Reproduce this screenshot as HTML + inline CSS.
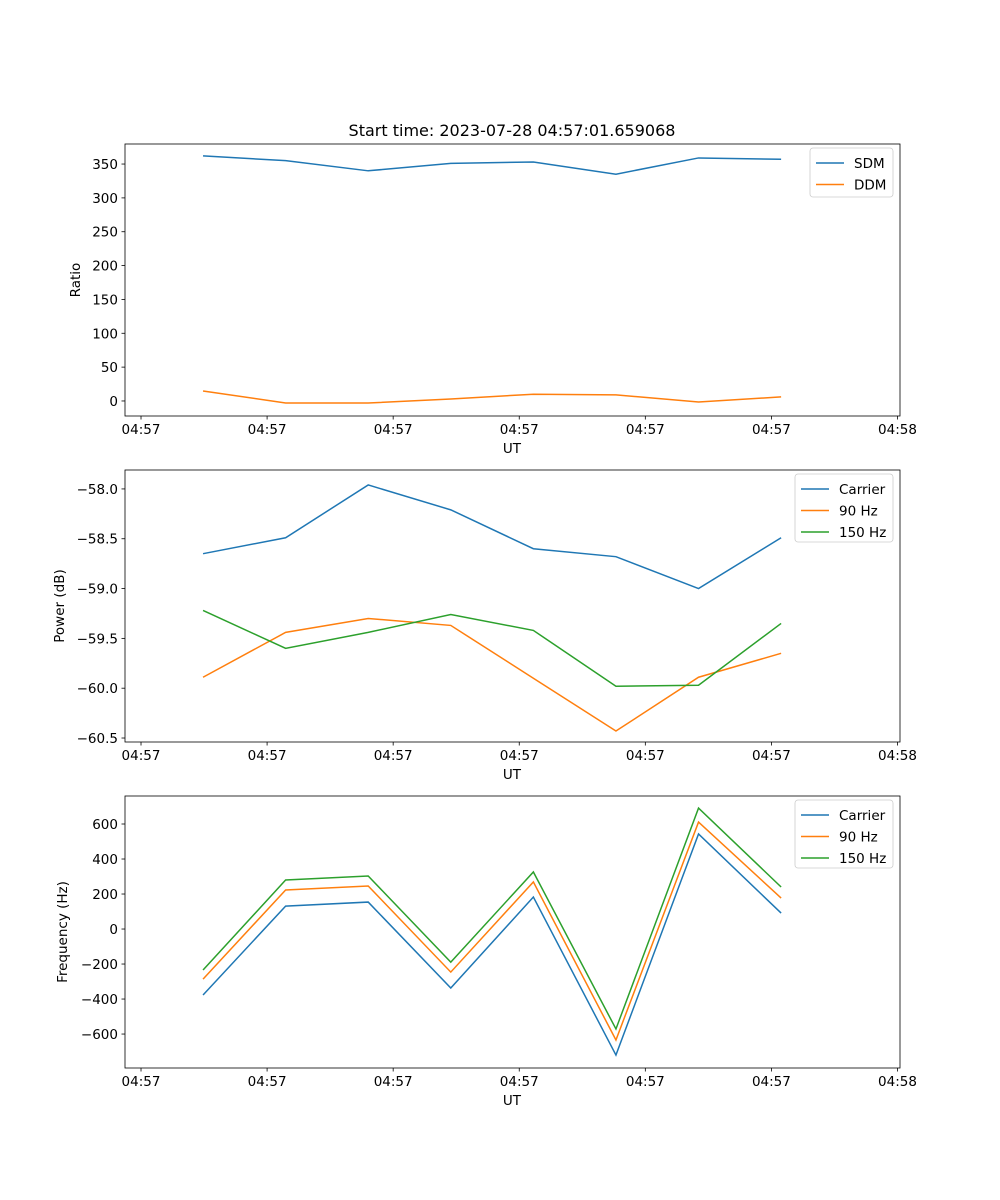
<!DOCTYPE html>
<html><head><meta charset="utf-8"><style>
body{margin:0;background:#fff}
svg{display:block;font-family:"DejaVu Sans","Liberation Sans",sans-serif}
</style></head><body>
<svg id="fig" width="1000" height="1200">
<rect width="1000" height="1200" fill="#fff"/>
<text x="512" y="136" font-size="16" text-anchor="middle">Start time: 2023-07-28 04:57:01.659068</text>
</svg>
<script>
const times=[4.92,11.47,18.02,24.57,31.12,37.67,44.22,50.77];
const tickVals=[0,10,20,30,40,50,60];
const tickLabels=['04:57','04:57','04:57','04:57','04:57','04:57','04:58'];
const sdm=[362,355,340,351,353,335,359,357];
const ddm=[14.8,-3,-3,3,10,9,-1.5,6];
const pwrCarrier=[-58.65,-58.49,-57.96,-58.21,-58.60,-58.68,-59.00,-58.49];
const pwr90=[-59.89,-59.44,-59.30,-59.37,-59.90,-60.43,-59.89,-59.65];
const pwr150=[-59.22,-59.60,-59.44,-59.26,-59.42,-59.98,-59.97,-59.35];
const frqCarrier=[-377,131,154,-337,183,-720,543,91];
const frq90=[-286,223,246,-246,269,-634,611,177];
const frq150=[-234,280,303,-189,326,-571,691,240];
const yTicks1=[0,50,100,150,200,250,300,350];
const yTicks2=[-60.5,-60.0,-59.5,-59.0,-58.5,-58.0];
const yTicks3=[-600,-400,-200,0,200,400,600];
const C=['#1f77b4','#ff7f0e','#2ca02c'];
const svg=document.getElementById('fig');
const NS='http://www.w3.org/2000/svg';
function mk(tag,attrs,parent){const e=document.createElementNS(NS,tag);for(const k in attrs)e.setAttribute(k,attrs[k]);(parent||svg).appendChild(e);return e;}
const X0=125,X1=900,XMIN=-1.27,XMAX=60.2;
const xs=t=>X0+(t-XMIN)/(XMAX-XMIN)*(X1-X0);
function panel(id,top,bot,ymin,ymax,yticks,fmt,ylabel,series,names,legW,legH){
  const g=mk('g',{});
  
  
  const ys=v=>bot-(v-ymin)/(ymax-ymin)*(bot-top);
  series.forEach((s,i)=>{
    const p=mk('polyline',{points:s.map((v,j)=>xs(times[j])+','+ys(v)).join(' '),fill:'none',stroke:C[i],'stroke-width':1.5},g);
    
    
  });
  const fr=mk('rect',{x:X0,y:top,width:X1-X0,height:bot-top,fill:'none',stroke:'#000','stroke-width':0.8},g);
  
  
  tickVals.forEach((t,i)=>{
    mk('line',{x1:xs(t),x2:xs(t),y1:bot,y2:bot+3.5,stroke:'#000','stroke-width':0.8},g);
    const tx=mk('text',{x:xs(t),y:bot+18,'font-size':13.5,'text-anchor':'middle'},g);
    tx.textContent=tickLabels[i];
    
    
  });
  yticks.forEach(v=>{
    mk('line',{x1:X0-3.5,x2:X0,y1:ys(v),y2:ys(v),stroke:'#000','stroke-width':0.8},g);
    const tx=mk('text',{x:X0-7,y:ys(v)+5,'font-size':13.5,'text-anchor':'end'},g);
    tx.textContent=fmt(v);
    
    
  });
  const xl=mk('text',{x:512,y:bot+37,'font-size':13.5,'text-anchor':'middle'},g);
  xl.textContent='UT';
  
  
  const ly=(top+bot)/2, lx=id==='ratio'?80:id==='power'?64:67;
  const yl=mk('text',{x:lx,y:ly,'font-size':13.5,'text-anchor':'middle',transform:`rotate(-90 ${lx} ${ly})`},g);
  yl.textContent=ylabel;
  
  
  const lg=mk('g',{},g);
  
  
  const lx0=893-legW,ly0=top+4;
  mk('rect',{x:lx0,y:ly0,width:legW,height:legH,rx:3,fill:'#fff',stroke:'#ccc','stroke-width':0.8},lg);
  names.forEach((n,i)=>{
    const yy=ly0+15+i*21.5;
    mk('line',{x1:lx0+6,x2:lx0+34,y1:yy,y2:yy,stroke:C[i],'stroke-width':1.5},lg);
    const t=mk('text',{x:lx0+44,y:yy+5,'font-size':13.5},lg);
    t.textContent=n;
    
    
  });
}
panel('ratio',144,416,-22.2,379.6,yTicks1,v=>String(v),'Ratio',[sdm,ddm],['SDM','DDM'],83,49);
panel('power',470,742,-60.54,-57.81,yTicks2,v=>'\u2212'+Math.abs(v).toFixed(1),'Power (dB)',[pwrCarrier,pwr90,pwr150],['Carrier','90 Hz','150 Hz'],98,68);
panel('frequency',796,1068,-794,760,yTicks3,v=>v<0?'\u2212'+Math.abs(v):String(v),'Frequency (Hz)',[frqCarrier,frq90,frq150],['Carrier','90 Hz','150 Hz'],98,68);
</script>
</body></html>
